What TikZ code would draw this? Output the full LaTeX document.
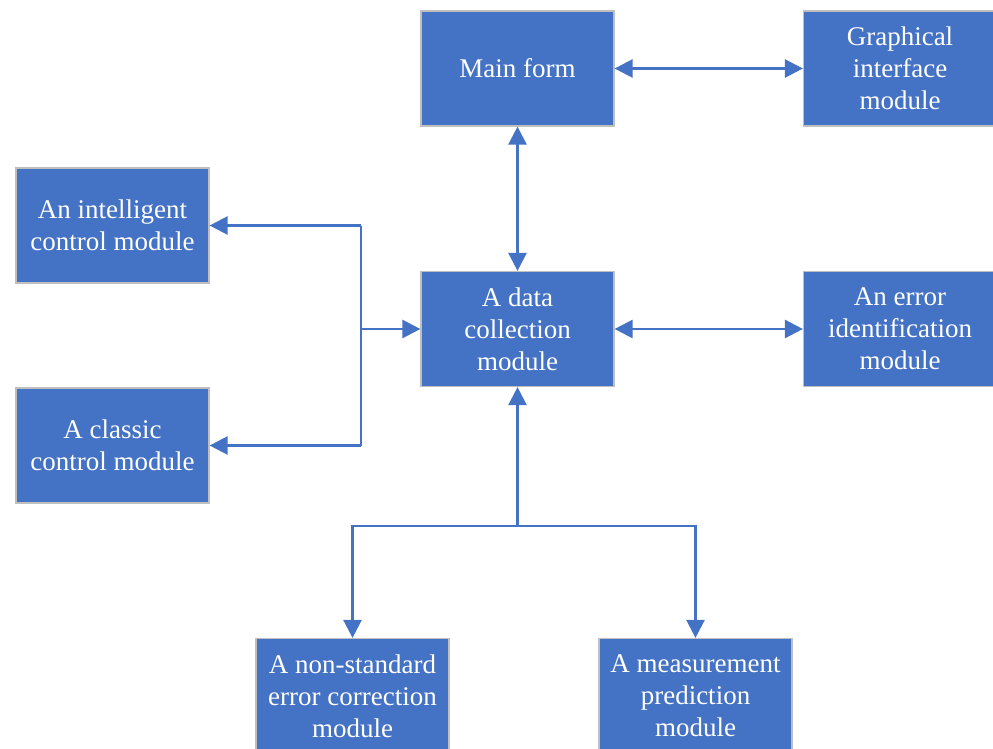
\documentclass[tikz,border=0pt]{standalone}
\usepackage{fontspec}
\setmainfont{Liberation Serif}
\usetikzlibrary{arrows.meta}
\definecolor{boxblue}{HTML}{4472C4}
\definecolor{boxedge}{HTML}{BFBFBF}
\tikzset{
  module/.style={rectangle, fill=boxblue, draw=boxedge, line width=1.2pt,
    minimum width=193pt, minimum height=115pt, inner sep=0pt,
    text=white, align=center, font=\fontsize{27pt}{32pt}\selectfont},
  link/.style={draw=boxblue, line width=2.5pt,
    -{Triangle[length=18pt,width=18pt]}},
  dlink/.style={draw=boxblue, line width=2.5pt,
    {Triangle[length=18pt,width=18pt]}-{Triangle[length=18pt,width=18pt]}},
  plain/.style={draw=boxblue, line width=2.5pt}
}
\begin{document}
\begin{tikzpicture}[x=1pt,y=-1pt]
\useasboundingbox (0,0) rectangle (993,749);

% modules
\node[module] (main)  at (517.5,68.5)  {Main form};
\node[module] (gui)   at (900,68.5)    {Graphical\\interface\\module};
\node[module] (intel) at (112.5,225.5) {An intelligent\\control module};
\node[module] (data)  at (517.5,329)   {A data\\collection\\module};
\node[module] (err)   at (900,329)     {An error\\identification\\module};
\node[module] (classic) at (112.5,445.5) {A classic\\control module};
\node[module] (nonstd) at (352.5,696)  {A non-standard\\error correction\\module};
\node[module] (meas)  at (695.5,696)   {A measurement\\prediction\\module};

% junction points
\coordinate (lj) at (361,329);
\coordinate (bj) at (517.5,526);

% two-way links
\draw[dlink] (main.east) -- (gui.west);
\draw[dlink] (main.south) -- (data.north);
\draw[dlink] (data.east) -- (err.west);

% left branch to the control modules
\draw[plain] (lj |- intel.east) -- (lj |- classic.east);
\draw[link] (lj) -- (data.west);
\draw[link] (lj |- intel.east) -- (intel.east);
\draw[link] (lj |- classic.east) -- (classic.east);

% lower branch
\draw[link] (bj) -- (data.south);
\draw[link] (bj) -| (nonstd.north);
\draw[link] (bj) -| (meas.north);
\end{tikzpicture}
\end{document}
